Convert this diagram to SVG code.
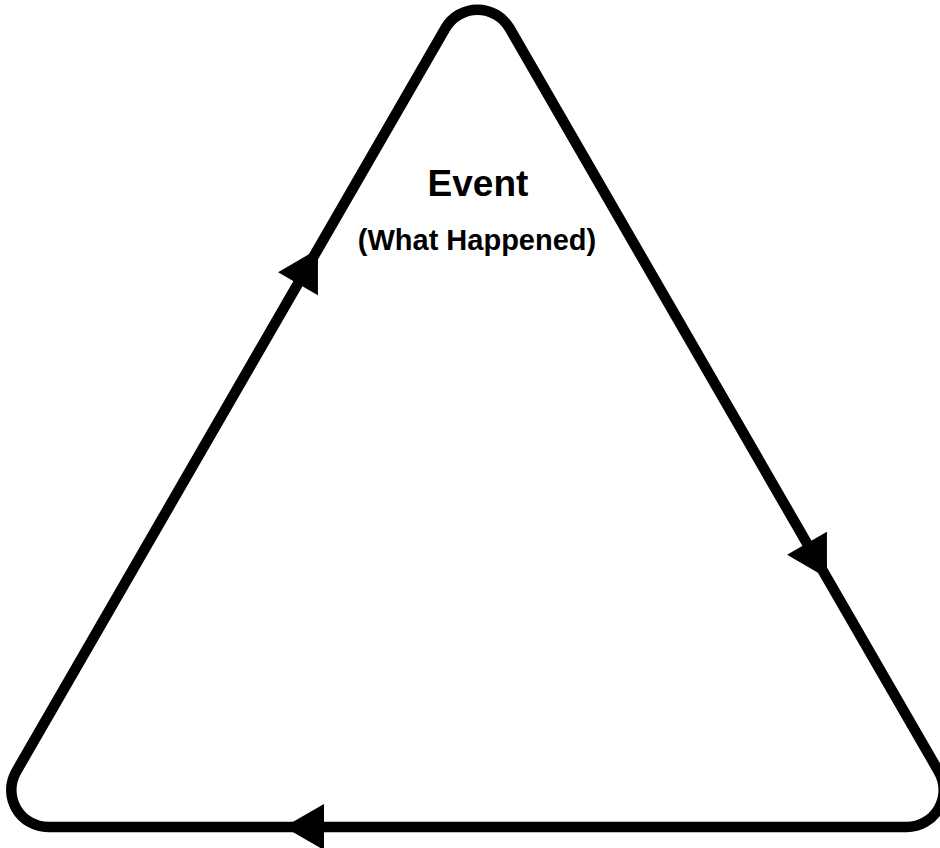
<svg xmlns="http://www.w3.org/2000/svg" width="940" height="848" viewBox="0 0 940 848">
<style>
.edge{fill:none;stroke:#000;stroke-width:10.5;stroke-linejoin:round}
.head{fill:#000;stroke:none}
.t{font-family:"Liberation Sans",Arial,sans-serif;font-weight:bold;fill:#000;text-anchor:middle}
</style>
<defs>
<path id="ah" d="M0 0 L-40 -23 L-40 23 Z"/>
</defs>
<rect width="940" height="848" fill="#fff"/>
<g id="connectors">
<path class="edge" d="M445.45 28.2 A37 37 0 0 1 509.55 28.2 L938.75 771.5 A37 37 0 0 1 906.7 827 L48.3 827 A37 37 0 0 1 16.25 771.5 Z"/>
<use href="#ah" class="head" transform="translate(318 249) rotate(-60)"/>
<use href="#ah" class="head" transform="translate(827 578) rotate(60)"/>
<use href="#ah" class="head" transform="translate(284 827) rotate(180)"/>
</g>
<g id="event">
<text class="t" x="478" y="196" font-size="37">Event</text>
<text class="t" x="477" y="250" font-size="29">(What Happened)</text>
</g>
</svg>
